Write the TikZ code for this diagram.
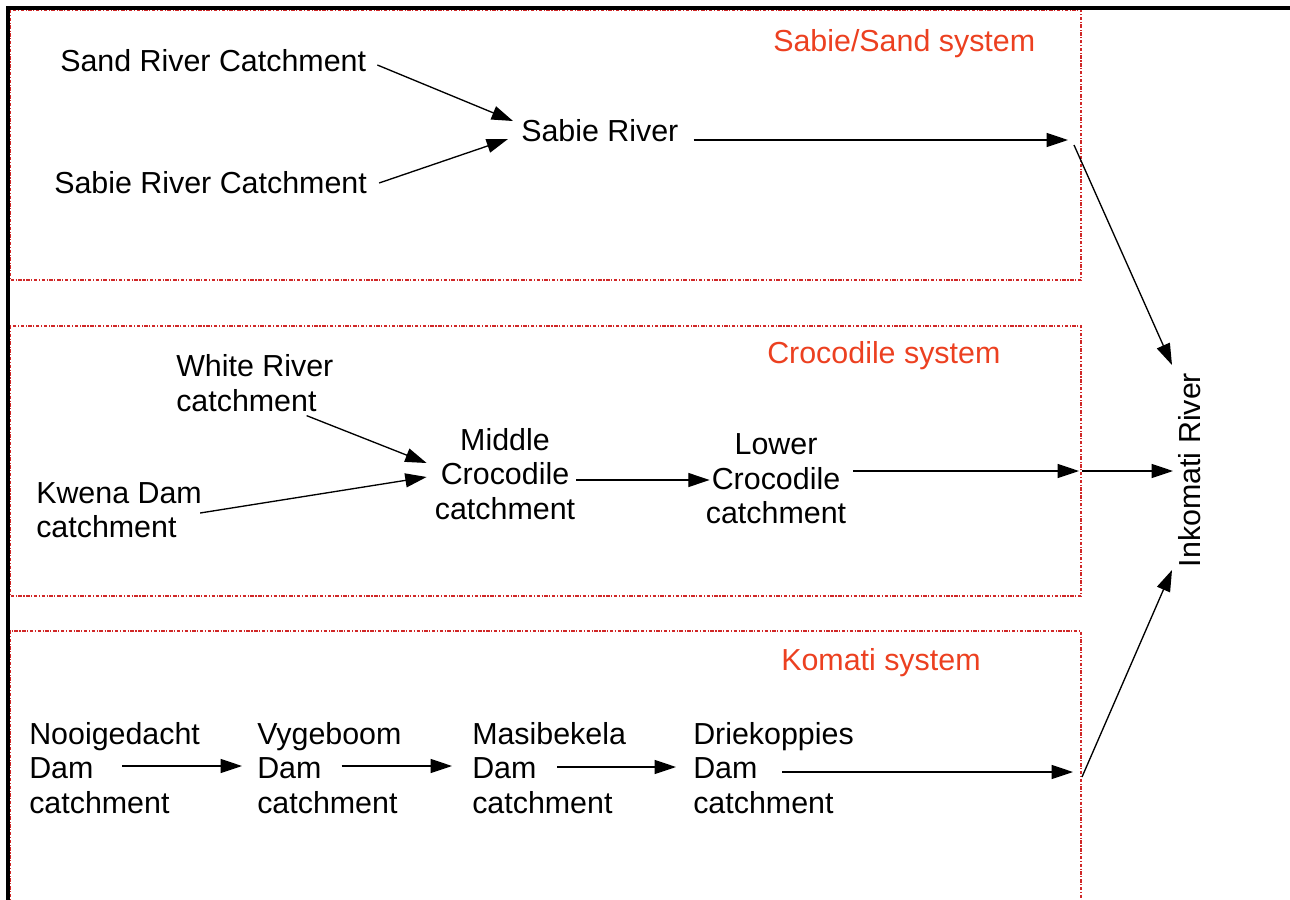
\documentclass[tikz,border=0pt]{standalone}
\usepackage{fontspec}
\setmainfont{Liberation Sans}
\usetikzlibrary{arrows.meta}
\definecolor{sysred}{RGB}{236,64,32}
\definecolor{boxred}{RGB}{208,40,40}
\begin{document}
\begin{tikzpicture}[x=0.75pt,y=-0.75pt,
  lbl/.style={inner sep=0pt, font=\fontsize{22.8}{25.8}\selectfont, align=left},
  sys/.style={lbl, text=sysred},
  arr/.style={line width=1pt, -{Triangle[length=16pt,width=10.5pt]}},
  sysbox/.style={draw=boxred, line width=1.1pt, dash pattern=on 2.6pt off 1.2pt on 0.8pt off 1.2pt},
  frameline/.style={line width=2.8pt}
]
\useasboundingbox (0,0) rectangle (1290,900);

% system boxes
\draw[sysbox] (10,10) rectangle (1081,280);
\draw[sysbox] (10,326) rectangle (1081,596);
\draw[sysbox] (10,905) -- (10,631) -- (1081,631) -- (1081,905);

% outer frame
\draw[frameline] (8,902) -- (8,8) -- (1292,8);

% system labels
\node[sys,anchor=west] (sys1) at (773,44) {Sabie/Sand system};
\node[sys,anchor=west] (sys2) at (767,356) {Crocodile system};
\node[sys,anchor=west] (sys3) at (781,663) {Komati system};

% Sabie/Sand
\node[lbl,anchor=west] (sandc) at (60,61) {Sand River Catchment};
\node[lbl,anchor=west] (sabiec) at (54,183) {Sabie River Catchment};
\node[lbl,anchor=west] (sabie) at (521,131) {Sabie River};

% Crocodile
\node[lbl,anchor=west] (white) at (176,383) {White River\\catchment};
\node[lbl,anchor=west] (kwena) at (36,510) {Kwena Dam\\catchment};
\node[lbl,align=center] (middle) at (505,474) {Middle\\Crocodile\\catchment};
\node[lbl,align=center] (lower) at (776,479) {Lower\\Crocodile\\catchment};

% Komati
\node[lbl,anchor=west] (nooi) at (29,768) {Nooigedacht\\Dam\\catchment};
\node[lbl,anchor=west] (vyge) at (257,768) {Vygeboom\\Dam\\catchment};
\node[lbl,anchor=west] (masi) at (472,768) {Masibekela\\Dam\\catchment};
\node[lbl,anchor=west] (drie) at (693,768) {Driekoppies\\Dam\\catchment};

% Inkomati
\node[lbl,rotate=90] (ink) at (1190,470) {Inkomati River};

% junction coordinates on the box edge
\coordinate (t1) at (1068,140);
\coordinate (s1) at (1074,145);
\coordinate (t2) at (1079,471);
\coordinate (s2) at (1082,471);
\coordinate (t3) at (1073,772);
\coordinate (s3) at (1082,777);
\coordinate (ink1) at (1172,365);
\coordinate (ink2) at (1173,471);
\coordinate (ink3) at (1172,570);

% Sabie/Sand arrows
\draw[arr] ([shift={(11,4)}]sandc.east) -- ([shift={(-8,-10)}]sabie.west);
\draw[arr] ([shift={(12,0)}]sabiec.east) -- ([shift={(-13,8)}]sabie.west);
\draw[arr] ([shift={(15,9)}]sabie.east) -- (t1);
\draw[arr] (s1) -- (ink1);

% Crocodile arrows
\draw[arr] ([shift={(-27,4)}]white.south east) -- ([shift={(-8,-11)}]middle.west);
\draw[arr] ([shift={(-2,3)}]kwena.east) -- ([shift={(-8,3)}]middle.west);
\draw[arr] ([shift={(1,6)}]middle.east) -- ([shift={(4,1)}]lower.west);
\draw[arr] ([shift={(7,-8)}]lower.east) -- (t2);
\draw[arr] (s2) -- (ink2);

% Komati arrows
\draw[arr] ([shift={(-78,-2)}]nooi.east) -- ([shift={(-15,-2)}]vyge.west);
\draw[arr] ([shift={(-60,-2)}]vyge.east) -- ([shift={(-20,-2)}]masi.west);
\draw[arr] ([shift={(-69,-1)}]masi.east) -- ([shift={(-17,-1)}]drie.west);
\draw[arr] ([shift={(-72,4)}]drie.east) -- (t3);
\draw[arr] (s3) -- (ink3);
\end{tikzpicture}
\end{document}
